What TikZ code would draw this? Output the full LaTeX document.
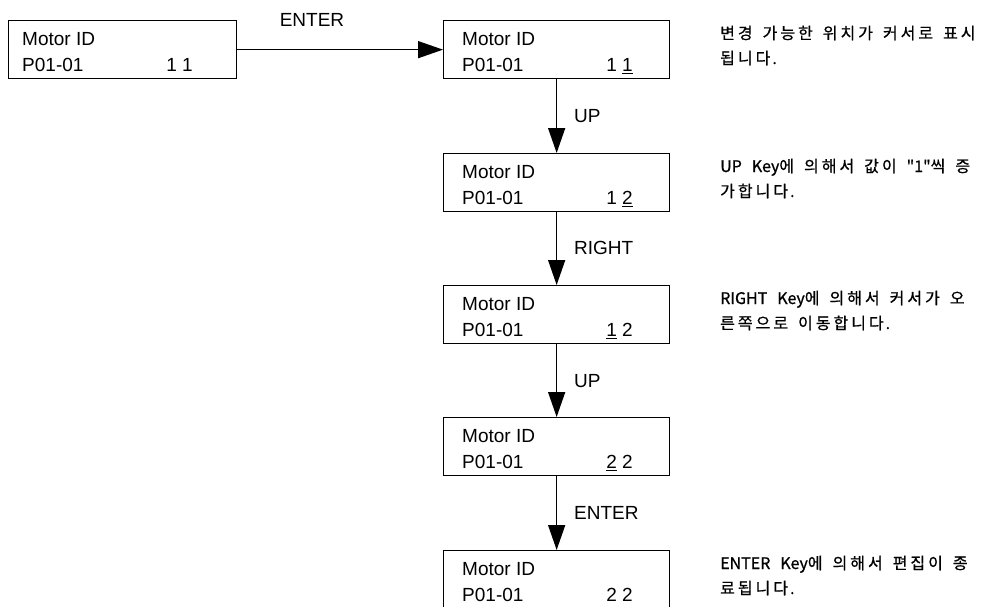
\documentclass[tikz,border=0pt]{standalone}
\usepackage{fontspec}
\setmainfont{Liberation Sans}
\newfontfamily\kr[FakeBold=0.8]{Noto Sans CJK KR}
\XeTeXinterchartokenstate=1
\newXeTeXintercharclass\hgcls
\newcount\hgc
\hgc="AC00
\loop\ifnum\hgc<"D7A4 \XeTeXcharclass\hgc=\hgcls \advance\hgc by 1 \repeat
\XeTeXinterchartoks\hgcls\hgcls={\kern3pt\relax}
\XeTeXinterchartoks\hgcls 0={\kern2pt\relax}
\newcommand\krdesc{\fontsize{16}{20}\kr\spaceskip=10pt\relax}
\usetikzlibrary{arrows.meta}
\tikzset{
  lcd/.style={draw, line width=1.3pt, anchor=north west, inner sep=0pt, minimum height=58pt},
  txt/.style={anchor=base west, inner sep=0pt, font=\fontsize{19}{22}\selectfont},
  val/.style={anchor=base east, inner sep=0pt, font=\fontsize{19}{22}\selectfont},
  keylbl/.style={anchor=west, inner sep=0pt, font=\fontsize{19}{22}\selectfont},
  desc/.style={anchor=base west, inner sep=0pt, font=\krdesc},
  conn/.style={line width=1.5pt, -{Triangle[length=25pt,width=17pt]}}
}
\begin{document}
\begin{tikzpicture}[x=1pt,y=-1pt]
\useasboundingbox (0,0) rectangle (987,606);
% first box
\node[lcd, minimum width=228pt] (b0) at (8,20) {};
\node[txt] (t0a) at (22,45.5) {Motor ID};
\node[txt] (t0b) at (22,71.5) {P01-01};
\node[val] (v0) at (193,71.5) {1 1};
% column boxes
\foreach \i/\T in {1/20,2/153,3/285,4/417,5/550}{
  \node[lcd, minimum width=226pt] (b\i) at (443,\T) {};
  \node[txt] (t\i a) at (462,\T+25.5) {Motor ID};
  \node[txt] (t\i b) at (462,\T+51.5) {P01-01};
}
\node[val] (v1) at (633,71.5) {1 \underline{1}};
\node[val] (v2) at (633,204.5) {1 \underline{2}};
\node[val] (v3) at (633,336.5) {\underline{1} 2};
\node[val] (v4) at (633,468.5) {\underline{2} 2};
\node[val] (v5) at (633,601.5) {2 2};
% connectors
\draw[conn] (b0.east) -- (b1.west);
\node[anchor=center, inner sep=0pt, font=\fontsize{19}{22}\selectfont] (l0) at (312,20) {ENTER};
\draw[conn] (b1.south) -- (b2.north);
\draw[conn] (b2.south) -- (b3.north);
\draw[conn] (b3.south) -- (b4.north);
\draw[conn] (b4.south) -- (b5.north);
\node[keylbl] (l1) at (574,116.5) {UP};
\node[keylbl] (l2) at (574,248) {RIGHT};
\node[keylbl] (l3) at (574,381) {UP};
\node[keylbl] (l4) at (574,513) {ENTER};
% descriptions
\node[desc] (d1a) at (720,39) {변경 가능한 위치가 커서로 표시};
\node[desc] (d1b) at (720,64) {됩니다.};
\node[desc] (d2a) at (720,172) {UP Key에 의해서 값이 "1"씩 증};
\node[desc] (d2b) at (720,197) {가합니다.};
\node[desc] (d3a) at (720,304) {RIGHT Key에 의해서 커서가 오};
\node[desc] (d3b) at (720,329) {른쪽으로 이동합니다.};
\node[desc] (d5a) at (720,569) {ENTER Key에 의해서 편집이 종};
\node[desc] (d5b) at (720,594) {료됩니다.};
\end{tikzpicture}
\end{document}
